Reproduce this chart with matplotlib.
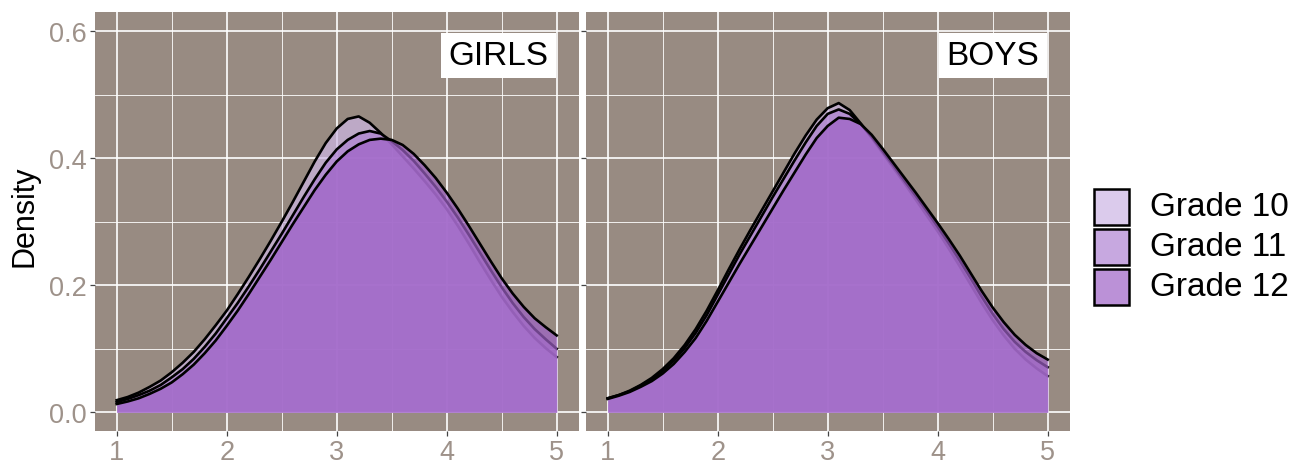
import matplotlib
matplotlib.use("Agg")
import matplotlib.pyplot as plt
from matplotlib.patches import Rectangle
import numpy as np

plt.rcParams['font.family'] = ['Liberation Sans', 'DejaVu Sans']

# score positions where the curves were read (every 0.1)
score = np.round(np.arange(1.0, 5.01, 0.1), 1)

grades = ['Grade 10', 'Grade 11', 'Grade 12']
fill_colors = ['#cdb6e4', '#b083d3', '#9f62c7']

# density values, girls
girls_g10 = [.019, .024, .031, .040, .050, .063, .078, .095, .115, .137,
             .160, .186, .213, .241, .270, .300, .331, .363, .395, .424,
             .447, .462, .466, .456, .440, .422, .403, .384, .364, .343,
             .320, .294, .266, .237, .209, .182, .158, .136, .117, .101, .087]
girls_g11 = [.016, .021, .027, .034, .043, .055, .068, .084, .103, .124,
             .148, .172, .198, .225, .253, .281, .310, .339, .367, .393,
             .414, .429, .439, .443, .439, .427, .413, .396, .376, .355,
             .332, .307, .280, .252, .224, .197, .172, .150, .131, .115, .100]
girls_g12 = [.013, .017, .022, .029, .037, .047, .060, .075, .093, .113,
             .136, .160, .186, .213, .240, .268, .296, .323, .350, .374,
             .395, .411, .422, .429, .431, .429, .421, .407, .389, .369,
             .346, .321, .294, .266, .238, .211, .187, .166, .148, .134, .121]

# density values, boys
boys_g10 = [.022, .027, .034, .043, .054, .068, .085, .106, .131, .160,
            .192, .225, .257, .288, .318, .348, .378, .408, .436, .461,
            .479, .487, .476, .455, .432, .408, .384, .360, .335, .310,
            .285, .258, .230, .201, .172, .145, .121, .100, .083, .069, .057]
boys_g11 = [.022, .027, .033, .042, .052, .065, .081, .101, .125, .153,
            .185, .217, .249, .279, .309, .339, .368, .397, .425, .451,
            .470, .477, .470, .454, .434, .411, .388, .364, .341, .317,
            .292, .266, .239, .211, .182, .155, .131, .111, .095, .082, .071]
boys_g12 = [.021, .026, .032, .040, .049, .061, .076, .095, .117, .144,
            .174, .204, .234, .263, .292, .321, .350, .378, .406, .432,
            .451, .464, .462, .454, .437, .415, .392, .369, .346, .322,
            .298, .273, .247, .219, .191, .165, .142, .122, .106, .093, .083]

panels = [('GIRLS', [girls_g10, girls_g11, girls_g12]),
          ('BOYS', [boys_g10, boys_g11, boys_g12])]

bg = '#988b82'
tick_col = '#9e928a'

W, H = 1314, 464
fig = plt.figure(figsize=(W / 100, H / 100), dpi=100)

lefts = [94.7, 585.7]
for i, (label, curves) in enumerate(panels):
    ax = fig.add_axes([lefts[i] / W, (H - 432.3) / H, 484 / W, 419 / H])
    ax.set_facecolor(bg)
    ax.set_xlim(0.8, 5.2)
    ax.set_ylim(-0.03, 0.63)
    ax.set_xticks([1, 2, 3, 4, 5])
    ax.set_xticks([1.5, 2.5, 3.5, 4.5], minor=True)
    ax.set_yticks([0.0, 0.2, 0.4, 0.6])
    ax.set_yticks([0.1, 0.3, 0.5], minor=True)
    ax.grid(which='major', color='white', lw=1.2, zorder=0)
    ax.grid(which='minor', color='white', lw=0.6, zorder=0)
    ax.set_axisbelow(True)
    for s in ax.spines.values():
        s.set_visible(False)
    ax.tick_params(which='major', length=3.5, width=0.9, color='#444444',
                   labelcolor=tick_col, labelsize=19.5, pad=2)
    ax.tick_params(which='minor', length=0)
    ax.set_yticklabels(['0.0', '0.2', '0.4', '0.6'])
    if i == 1:
        ax.tick_params(axis='y', labelleft=False)

    for k, y in enumerate(curves):
        ax.fill_between(score, 0, y, color=fill_colors[k], alpha=0.7, lw=0, zorder=2 + 2 * k)
        ax.plot(score, y, color='black', lw=1.9, zorder=3 + 2 * k, solid_joinstyle='round')

    ax.text(4.925, 0.562, label, ha='right', va='center', fontsize=24, color='black', zorder=20,
            bbox=dict(boxstyle='square,pad=0.22', facecolor='white', edgecolor='none'))

fig.text(24 / W, 1 - 216 / H, 'Density', rotation=90, ha='center', va='center', fontsize=22)

# legend
for k, g in enumerate(grades):
    top = 190 + 40 * k
    fig.add_artist(Rectangle((1094 / W, 1 - (top + 36) / H), 35 / W, 36 / H,
                             transform=fig.transFigure, facecolor=fill_colors[k], alpha=0.7,
                             edgecolor='none'))
    fig.add_artist(Rectangle((1094 / W, 1 - (top + 36) / H), 35 / W, 36 / H,
                             transform=fig.transFigure, facecolor='none',
                             edgecolor='black', lw=1.8))
    fig.text(1150 / W, 1 - (top + 18) / H, g, ha='left', va='center', fontsize=24)

fig.savefig('out.png', dpi=100)
